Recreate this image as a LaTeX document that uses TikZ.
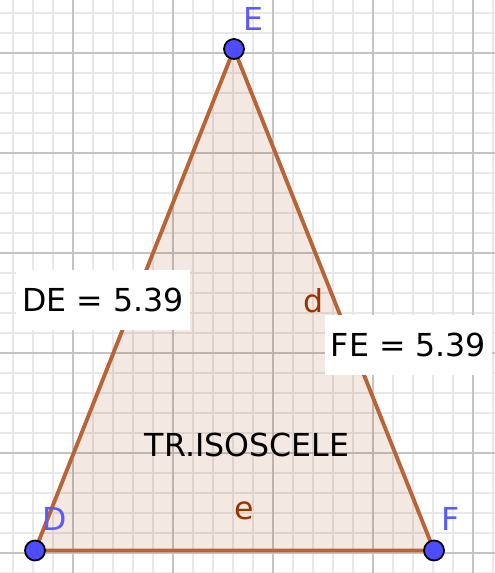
\documentclass[tikz,border=0pt]{standalone}
\usepackage{fontspec}
\setmainfont{DejaVu Sans}
\definecolor{sidebrown}{RGB}{185,100,55}
\definecolor{namebrown}{RGB}{153,51,0}
\definecolor{ptblue}{RGB}{77,77,255}
\definecolor{lblblue}{RGB}{90,90,255}
\definecolor{gridminor}{RGB}{232,232,232}
\definecolor{gridmajor}{RGB}{196,196,196}

\begin{document}
\begin{tikzpicture}[every node/.style={font=\fontsize{9}{11}\selectfont},minorgrid/.style={gridminor,line width=0.4pt},majorgrid/.style={gridmajor,line width=0.6pt},trifill/.style={fill=namebrown,fill opacity=0.115},side/.style={draw=sidebrown,line width=1.1pt,line join=round},vertex/.style={circle,draw=black,fill=ptblue,line width=0.5pt,inner sep=0pt,minimum size=0.2cm},ptlabel/.style={text=lblblue},sidelabel/.style={text=namebrown},valbox/.style={fill=white,inner xsep=0.06cm,minimum height=0.6cm}]
\useasboundingbox (0,0) rectangle (4.95,5.73);
\draw[minorgrid,step=0.2,xshift=0.13cm] (-0.13,0) grid (4.82,5.73);
\draw[majorgrid,step=1,xshift=0.73cm,yshift=0.2cm] (-0.73,-0.2) grid (4.22,5.53);
\coordinate (D) at (0.35,0.225);\coordinate (E) at (2.34,5.24);\coordinate (F) at (4.34,0.225);
\fill[trifill] (D)--(E)--(F)--cycle;
\draw[side] (D)--(E)--(F)--cycle;
\node[sidelabel] (lbld) at (3.14,2.72) {d};\node[sidelabel] (lble) at (2.44,0.62) {e};
\node (title) at (2.47,1.28) {TR.ISOSCELE};
\node[valbox] (boxDE) at (1.03,2.73) {DE = 5.39};
\node[valbox] (boxFE) at (4.085,2.28) {FE = 5.39};
\node[vertex] (ptD) at (D) {};\node[vertex] (ptE) at (E) {};\node[vertex] (ptF) at (F) {};
\node[ptlabel] (lblD) at (0.55,0.54) {D};\node[ptlabel] (lblE) at (2.53,5.54) {E};\node[ptlabel] (lblF) at (4.51,0.54) {F};
\end{tikzpicture}
\end{document}
